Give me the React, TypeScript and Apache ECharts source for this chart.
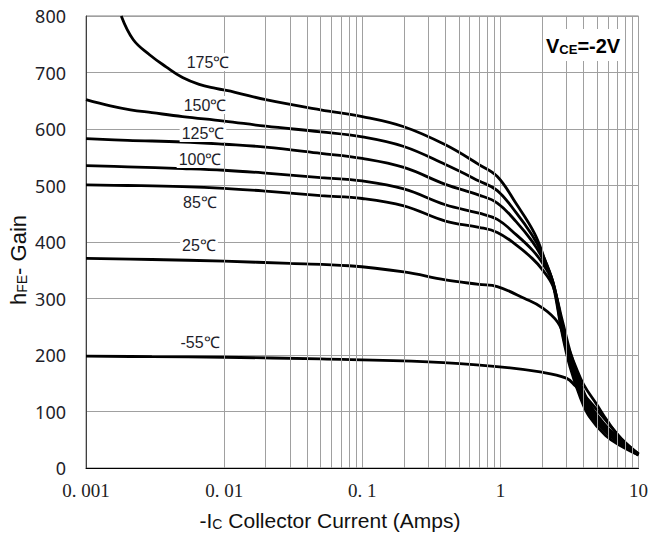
import React, { useEffect, useRef } from "react";
import * as echarts from "echarts";

// ---- data ----
const xTickLabels = ["0. 001", "0. 01", "0. 1", "1", "10"];
const decades = [0.001, 0.01, 0.1, 1];
const minorSteps = [2, 3, 4, 5, 6, 7, 8, 9];

const curveNames = ["175℃", "150℃", "125℃", "100℃", "85℃", "25℃", "-55℃"];

const t175: [number, number][] = [
  [0.0018, 800], [0.0022, 758], [0.0029, 731], [0.0038, 710], [0.005, 691], [0.0066, 679],
  [0.0087, 672], [0.012, 665], [0.02, 652], [0.05, 634], [0.1, 622], [0.2, 604], [0.4, 572],
  [0.7, 537], [0.95, 516], [1.3, 468], [1.77, 415], [2.1, 368], [2.4, 326], [2.8, 238],
  [3.2, 178], [3.8, 124], [4.4, 91], [5.8, 57], [7.7, 37], [10, 23],
];
const t150: [number, number][] = [
  [0.001, 652], [0.0015, 641], [0.0021, 634], [0.003, 629], [0.005, 622], [0.01, 614],
  [0.02, 605], [0.05, 595], [0.1, 586], [0.2, 569], [0.4, 537], [0.7, 508], [0.95, 491],
  [1.3, 452], [1.7, 412], [2.0, 380], [2.4, 329], [2.8, 242], [3.2, 184], [3.8, 130],
  [4.5, 94], [6, 60], [8, 38], [10, 23],
];
const t125: [number, number][] = [
  [0.001, 583], [0.002, 580], [0.005, 577], [0.01, 573], [0.02, 568], [0.05, 557],
  [0.1, 548], [0.2, 532], [0.4, 502], [0.7, 483], [0.95, 469], [1.3, 436], [1.7, 401],
  [2.0, 373], [2.4, 330], [2.8, 248], [3.2, 190], [3.8, 136], [4.5, 99], [6, 64], [8, 40], [10, 23],
];
const t100: [number, number][] = [
  [0.001, 535], [0.002, 533], [0.005, 530], [0.01, 527], [0.02, 522], [0.05, 514],
  [0.1, 508], [0.2, 494], [0.4, 466], [0.7, 451], [0.95, 440], [1.3, 413], [1.7, 386],
  [2.0, 364], [2.4, 328], [2.8, 255], [3.2, 198], [3.8, 143], [4.5, 104], [6, 67], [8, 41], [10, 24],
];
const t85: [number, number][] = [
  [0.001, 501], [0.002, 500], [0.005, 498], [0.01, 495], [0.02, 490], [0.05, 482],
  [0.1, 477], [0.2, 464], [0.4, 437], [0.7, 426], [0.95, 417], [1.3, 395], [1.7, 371],
  [2.0, 352], [2.4, 322], [2.8, 262], [3.2, 206], [3.8, 150], [4.5, 110], [6, 71], [8, 43], [10, 24],
];
const t25: [number, number][] = [
  [0.001, 371], [0.003, 369], [0.01, 366], [0.03, 362], [0.08, 358], [0.2, 347], [0.4, 333],
  [0.7, 325], [0.95, 321], [1.5, 300], [2.0, 284], [2.6, 258], [3.0, 222], [3.5, 180],
  [4.0, 148], [5, 112], [6, 82], [7.5, 52], [10, 25],
];
const tm55: [number, number][] = [
  [0.001, 198], [0.003, 197], [0.01, 196], [0.05, 193], [0.3, 188], [0.9, 180], [1.94, 170],
  [3.0, 159], [3.5, 145], [4.0, 130], [5, 103], [6, 80], [7.5, 52], [10, 25],
];

const curves = [t175, t150, t125, t100, t85, t25, tm55];

// label placement (pixels) for the temperature captions
const labelPos: [number, number][] = [
  [208, 62], [205, 105], [203, 133], [200, 159], [200, 202], [199, 245], [200, 342],
];

export default function App() {
  const ref = useRef<HTMLDivElement>(null);

  useEffect(() => {
    document.body.style.margin = "0";
    if (!ref.current) return;
    const chart = echarts.init(ref.current, undefined, { renderer: "svg" });

    const minorLines: any[] = [];
    decades.forEach((d) => minorSteps.forEach((m) => minorLines.push({ xAxis: d * m })));

    const series: any[] = [
      {
        type: "line",
        name: "grid",
        data: [],
        z: 1,
        silent: true,
        markLine: {
          silent: true,
          symbol: "none",
          label: { show: false },
          lineStyle: { color: "#a0a0a0", width: 1, type: "solid" },
          emphasis: { disabled: true },
          data: minorLines,
        },
      },
      ...curves.map((c, i) => ({
        type: "line",
        name: curveNames[i],
        data: c,
        z: 3,
        smooth: 0.4,
        showSymbol: false,
        symbol: "none",
        lineStyle: { color: "#000", width: 2.8 },
        silent: true,
      })),
    ];

    const labelFont = "'Liberation Sans', Arial, sans-serif";

    const graphics: any[] = curveNames.map((n, i) => ({
      type: "text",
      x: labelPos[i][0],
      y: labelPos[i][1],
      z: 10,
      style: {
        text: n,
        fontSize: 16,
        fontFamily: labelFont,
        fill: "#1e1e2a",
        align: "center",
        verticalAlign: "middle",
        textAlign: "center",
        textVerticalAlign: "middle",
        backgroundColor: "#fff",
        padding: [1, 2],
      },
    }));

    graphics.push({
      type: "text",
      x: 543,
      y: 45,
      z: 10,
      style: {
        text: "{m|V}{s|CE}{m|=-2V}",
        align: "left",
        verticalAlign: "middle",
        textAlign: "left",
        textVerticalAlign: "middle",
        backgroundColor: "#fff",
        padding: [5, 3],
        rich: {
          m: { fontSize: 20, fontWeight: "bold", fontFamily: labelFont, fill: "#000", color: "#000", lineHeight: 22, verticalAlign: "bottom" },
          s: { fontSize: 13, fontWeight: "bold", fontFamily: labelFont, fill: "#000", color: "#000", lineHeight: 10, verticalAlign: "bottom" },
        },
      },
    });

    graphics.push({
      type: "text",
      x: 330,
      y: 519,
      z: 10,
      style: {
        text: "{m|-I}{s|C}{m| Collector Current (Amps)}",
        align: "center",
        verticalAlign: "middle",
        textAlign: "center",
        textVerticalAlign: "middle",
        rich: {
          m: { fontSize: 21, fontFamily: labelFont, fill: "#111", color: "#111", lineHeight: 24, verticalAlign: "bottom" },
          s: { fontSize: 14, fontFamily: labelFont, fill: "#111", color: "#111", lineHeight: 10, verticalAlign: "bottom" },
        },
      },
    });

    graphics.push({
      type: "text",
      x: 17,
      y: 260,
      rotation: Math.PI / 2,
      z: 10,
      style: {
        text: "{m|h}{s|FE}{m|- Gain}",
        align: "center",
        verticalAlign: "middle",
        textAlign: "center",
        textVerticalAlign: "middle",
        rich: {
          m: { fontSize: 22, fontFamily: labelFont, fill: "#111", color: "#111", lineHeight: 24, verticalAlign: "bottom" },
          s: { fontSize: 14, fontFamily: labelFont, fill: "#111", color: "#111", lineHeight: 10, verticalAlign: "bottom" },
        },
      },
    });

    chart.setOption({
      animation: false,
      grid: {
        left: 86,
        right: 9,
        top: 16,
        bottom: 65,
        show: true,
        borderColor: "#808080",
        borderWidth: 1,
        backgroundColor: "transparent",
      },
      xAxis: {
        type: "log",
        logBase: 10,
        min: 0.001,
        max: 10,
        axisLine: { show: true, onZero: false, lineStyle: { color: "#000", width: 1 } },
        axisTick: { show: false },
        splitLine: { show: true, lineStyle: { color: "#a0a0a0", width: 1 } },
        axisLabel: {
          showMinLabel: true,
          showMaxLabel: true,
          margin: 13,
          fontFamily: "'Liberation Serif', 'Times New Roman', serif",
          fontSize: 19,
          color: "#222",
          formatter: (v: number) => {
            const idx = Math.round(Math.log10(v)) + 3;
            return xTickLabels[idx] ?? "";
          },
        },
      },
      yAxis: {
        type: "value",
        min: 0,
        max: 800,
        interval: 100,
        axisLine: { show: true, lineStyle: { color: "#404040", width: 1 } },
        axisTick: { show: false },
        splitLine: { show: true, lineStyle: { color: "#a0a0a0", width: 1 } },
        axisLabel: {
          margin: 20,
          fontFamily: "'Noto Sans', sans-serif",
          fontSize: 18,
          color: "#1e1e2a",
        },
      },
      series,
      graphic: graphics,
    });

    return () => chart.dispose();
  }, []);

  return <div ref={ref} style={{ width: 651, height: 533, position: "absolute", left: 0, top: 0 }} />;
}
